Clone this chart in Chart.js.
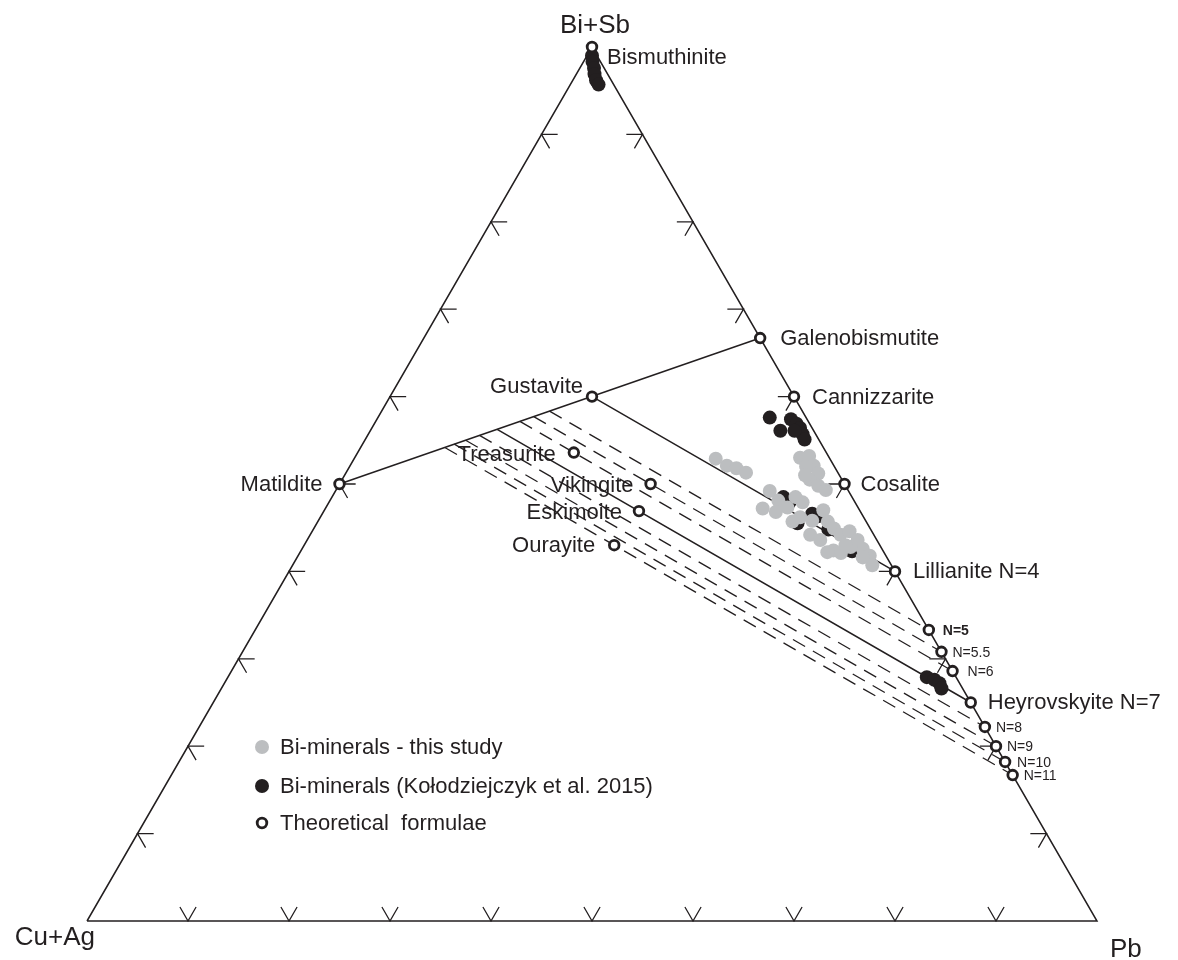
<!DOCTYPE html>
<html>
<head>
<meta charset="utf-8">
<script src="https://cdn.jsdelivr.net/npm/chart.js@4.4.1/dist/chart.umd.min.js"></script>
<style>
  body { margin: 0; background: #fff; }
  #wrap { width: 1178px; height: 960px; position: relative; }
</style>
</head>
<body>
<div id="wrap"><canvas id="ternary-chart"></canvas></div>
<script>
// Ternary diagram Cu+Ag - Pb - Bi+Sb (at.%), values given as [Pb, Bi+Sb], Cu+Ag = rest
var mineralNames = ['Bismuthinite', 'Galenobismutite', 'Cannizzarite', 'Cosalite', 'Lillianite N=4',
  'N=5', 'N=5.5', 'N=6', 'Heyrovskyite N=7', 'N=8', 'N=9', 'N=10', 'N=11',
  'Gustavite', 'Matildite', 'Treasurite', 'Vikingite', 'Eskimoite', 'Ourayite'];
var mineralPb = [0, 33.3, 40, 50, 60, 66.7, 69.2, 71.4, 75, 77.8, 80, 81.8, 83.3, 20, 0, 21.4, 30.8, 31.2, 30.7];
var mineralBi = [100, 66.7, 60, 50, 40, 33.3, 30.8, 28.6, 25, 22.2, 20, 18.2, 16.7, 60, 50, 53.6, 50, 46.9, 43.0];

// lillianite homologues joined to the matildite - galenobismutite line
var homologues = ['Lillianite N=4', 'N=5', 'N=5.5', 'N=6', 'Heyrovskyite N=7', 'N=8', 'N=9', 'N=10', 'N=11'];
var solidHomologues = ['Lillianite N=4', 'Heyrovskyite N=7'];

// Bi-minerals - this study
var studyPoints = [
  [35.8, 52.9], [37.3, 52.1], [38.4, 51.8], [39.6, 51.3], [44.1, 53.0], [44.9, 53.2], [45.9, 52.1],
  [46.8, 51.2], [46.3, 50.5], [47.5, 49.8], [48.5, 49.3], [45.2, 52.0], [43.3, 47.2], [43.0, 49.2],
  [44.4, 48.1], [45.7, 47.3], [46.9, 47.9], [47.5, 46.2], [48.9, 45.8], [49.4, 47.0], [50.5, 45.7],
  [51.5, 44.9], [52.5, 44.2], [53.2, 44.6], [54.5, 43.6], [55.5, 42.6], [54.2, 42.8], [52.7, 42.4],
  [52.2, 42.2], [53.6, 42.1], [56.6, 41.8], [57.4, 40.7], [56.0, 41.6], [47.0, 45.7], [49.5, 44.2],
  [50.8, 43.6], [44.8, 46.8], [45.9, 48.5], [45.6, 51.0], [53.6, 43.0]
];

// Bi-minerals (Kołodziejczyk et al. 2015)
var kolodziejczykPoints = [
  [0.5, 99.0], [0.9, 98.3], [1.4, 97.6], [1.8, 96.9], [2.3, 96.2], [2.8, 95.7],
  [38.8, 57.6], [40.6, 56.1], [41.0, 57.4], [41.8, 56.9], [42.4, 56.4], [43.0, 55.7], [43.5, 55.1], [42.0, 56.1],
  [44.7, 48.5], [45.6, 47.9], [47.6, 45.5], [48.5, 46.6], [49.2, 46.3], [51.0, 44.8], [54.6, 42.3],
  [69.2, 27.9], [70.1, 27.6], [70.8, 27.2], [71.3, 26.6]
];

var tickSteps = [10, 20, 30, 40, 50, 60, 70, 80, 90];

var ink = '#231f20';
var grey = '#bcbec0';
var H = Math.sqrt(3) / 2;

function tern(pb, bi) {
  return { x: pb + bi / 2, y: bi * H };
}

function mineral(name) {
  var i = mineralNames.indexOf(name);
  return tern(mineralPb[i], mineralBi[i]);
}

// intersection of line p + s*d with segment a-b
function intersect(p, d, a, b) {
  var ex = b.x - a.x, ey = b.y - a.y;
  var den = d.x * ey - d.y * ex;
  var s = ((a.x - p.x) * ey - (a.y - p.y) * ex) / den;
  return { x: p.x + s * d.x, y: p.y + s * d.y };
}

var gap = { x: NaN, y: NaN };

// triangle frame
var frame = [tern(0, 0), tern(100, 0), tern(0, 100), tern(0, 0)];

// tick marks, arms parallel to the other edges
var L = 1.6;
var ticks = [];
tickSteps.forEach(function (k) {
  // left edge (Pb = 0)
  ticks.push(tern(L, k), tern(0, k), tern(L, k - L), gap);
  // right edge (Cu+Ag = 0)
  ticks.push(tern(100 - k - L, k), tern(100 - k, k), tern(100 - k, k - L), gap);
  // bottom edge (Bi+Sb = 0)
  ticks.push(tern(k - L, L), tern(k, 0), tern(k, L), gap);
});

var matLine = [mineral('Matildite'), mineral('Galenobismutite')];

// substitution 2Pb -> (Ag,Cu)+Bi
var subDir = { x: -2 + 0.5, y: H };
var solidLines = [], dashedLines = [];
homologues.forEach(function (name) {
  var p = mineral(name);
  var q = intersect(p, subDir, matLine[0], matLine[1]);
  var target = solidHomologues.indexOf(name) >= 0 ? solidLines : dashedLines;
  target.push(q, p, gap);
});

var studyData = studyPoints.map(function (v) { return tern(v[0], v[1]); });
var kolData = kolodziejczykPoints.map(function (v) { return tern(v[0], v[1]); });
var theoData = mineralNames.map(function (n, i) { return tern(mineralPb[i], mineralBi[i]); });

// label placement relative to the marker (px)
var labelStyle = {
  'Bismuthinite': [15, 17, 'left', 22], 'Galenobismutite': [20, 7, 'left', 22],
  'Cannizzarite': [18, 7, 'left', 22], 'Cosalite': [16, 7, 'left', 22],
  'Lillianite N=4': [18, 7, 'left', 22], 'N=5': [14, 5, 'left', 14, 'bold'],
  'N=5.5': [11, 5, 'left', 14], 'N=6': [15, 5, 'left', 14],
  'Heyrovskyite N=7': [17, 6, 'left', 22], 'N=8': [11, 5, 'left', 14],
  'N=9': [11, 5, 'left', 14], 'N=10': [12, 5, 'left', 14], 'N=11': [11, 5, 'left', 14],
  'Gustavite': [-9, -4, 'right', 22], 'Matildite': [-17, 7, 'right', 22],
  'Treasurite': [-18, 8, 'right', 22], 'Vikingite': [-17, 8, 'right', 22],
  'Eskimoite': [-17, 8, 'right', 22], 'Ourayite': [-19, 7, 'right', 22]
};

var FONT = '"Liberation Sans", Arial, sans-serif';

var textPlugin = {
  id: 'ternaryText',
  afterDatasetsDraw: function (chart) {
    var ctx = chart.ctx, sx = chart.scales.x, sy = chart.scales.y;
    ctx.save();
    ctx.fillStyle = ink;
    ctx.textBaseline = 'alphabetic';

    mineralNames.forEach(function (name, i) {
      var st = labelStyle[name];
      var px = sx.getPixelForValue(theoData[i].x), py = sy.getPixelForValue(theoData[i].y);
      ctx.font = (st[4] || 'normal') + ' ' + st[3] + 'px ' + FONT;
      ctx.textAlign = st[2];
      ctx.fillText(name, px + st[0], py + st[1]);
    });

    // corner labels
    ctx.font = '26px ' + FONT;
    var apex = frame[2], left = frame[0], right = frame[1];
    ctx.textAlign = 'center';
    ctx.fillText('Bi+Sb', sx.getPixelForValue(apex.x) + 3, sy.getPixelForValue(apex.y) - 14);
    ctx.textAlign = 'right';
    ctx.fillText('Cu+Ag', sx.getPixelForValue(left.x) + 8, sy.getPixelForValue(left.y) + 24);
    ctx.textAlign = 'left';
    ctx.fillText('Pb', sx.getPixelForValue(right.x) + 13, sy.getPixelForValue(right.y) + 36);

    // legend
    var items = [
      ['Bi-minerals - this study', 'grey', 747],
      ['Bi-minerals (Kołodziejczyk et al. 2015)', 'black', 786],
      ['Theoretical  formulae', 'open', 823]
    ];
    items.forEach(function (it) {
      ctx.beginPath();
      if (it[1] === 'open') {
        ctx.arc(262, it[2], 4.8, 0, Math.PI * 2);
        ctx.lineWidth = 2.8;
        ctx.strokeStyle = ink;
        ctx.fillStyle = '#fff';
        ctx.fill();
        ctx.stroke();
      } else {
        ctx.arc(262, it[2], 7, 0, Math.PI * 2);
        ctx.fillStyle = it[1] === 'grey' ? grey : ink;
        ctx.fill();
      }
      ctx.fillStyle = ink;
      ctx.font = '22px ' + FONT;
      ctx.textAlign = 'left';
      ctx.fillText(it[0], 280, it[2] + 7);
    });
    ctx.restore();
  }
};

var lineDefaults = {
  showLine: true, pointRadius: 0, borderColor: ink, borderWidth: 1.5,
  spanGaps: false, clip: false, order: 3
};

var ternaryChart = new Chart(document.getElementById('ternary-chart').getContext('2d'), {
  type: 'scatter',
  data: {
    datasets: [
      Object.assign({ label: 'frame', data: frame }, lineDefaults),
      Object.assign({ label: 'ticks', data: ticks }, lineDefaults, { borderWidth: 1.3 }),
      Object.assign({ label: 'matildite line', data: matLine }, lineDefaults),
      Object.assign({ label: 'homologues', data: solidLines }, lineDefaults),
      Object.assign({ label: 'homologues dashed', data: dashedLines }, lineDefaults, { borderDash: [14, 9], borderWidth: 1.3 }),
      {
        label: 'Bi-minerals (Kołodziejczyk et al. 2015)', data: kolData,
        pointRadius: 7, pointBackgroundColor: ink, pointBorderWidth: 0, clip: false, order: 2
      },
      {
        label: 'Bi-minerals - this study', data: studyData,
        pointRadius: 7, pointBackgroundColor: grey, pointBorderWidth: 0, clip: false, order: 1
      },
      {
        label: 'Theoretical formulae', data: theoData,
        pointRadius: 4.8, pointBackgroundColor: '#fff', pointBorderColor: ink, pointBorderWidth: 2.8,
        clip: false, order: 0
      }
    ]
  },
  options: {
    responsive: true,
    maintainAspectRatio: false,
    animation: false,
    events: [],
    layout: { padding: { left: 87, right: 81, top: 47, bottom: 39 } },
    plugins: { legend: { display: false }, tooltip: { enabled: false } },
    scales: {
      x: { type: 'linear', min: 0, max: 100, display: false },
      y: { type: 'linear', min: 0, max: 100 * H, display: false }
    }
  },
  plugins: [textPlugin]
});
</script>
</body>
</html>
